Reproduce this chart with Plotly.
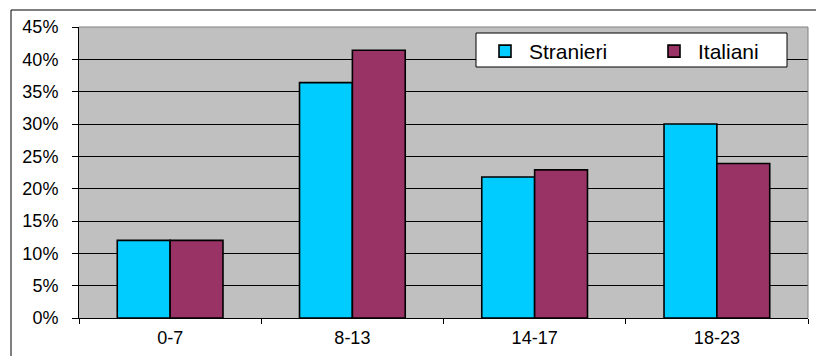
import plotly.graph_objects as go

# Age bands and share of each group (fraction of total)
categories = ["0-7", "8-13", "14-17", "18-23"]
stranieri = [0.12, 0.364, 0.218, 0.300]
italiani = [0.12, 0.414, 0.229, 0.239]
y_ticks = [0, 0.05, 0.10, 0.15, 0.20, 0.25, 0.30, 0.35, 0.40, 0.45]

W, H = 816, 356
ML, MR, MT, MB = 79, 8, 27, 38
PW, PH = W - ML - MR, H - MT - MB

FONT = "Liberation Sans, Arial, sans-serif"

fig = go.Figure()
fig.add_trace(go.Bar(
    name="Stranieri", x=categories, y=stranieri,
    marker=dict(color="#00CCFF", line=dict(color="#000000", width=1.6)),
))
fig.add_trace(go.Bar(
    name="Italiani", x=categories, y=italiani,
    marker=dict(color="#993366", line=dict(color="#000000", width=1.6)),
))


def px_x(px):
    return (px - ML) / PW


def px_y(py):
    return (H - MB - py) / PH


shapes = [
    # outer chart frame (runs past the right and bottom edges)
    dict(type="rect", xref="paper", yref="paper",
         x0=px_x(11), x1=px_x(830), y0=px_y(370), y1=px_y(10),
         line=dict(color="#000000", width=1), layer="above"),
    # grey plot-area border on top and right
    dict(type="line", xref="paper", yref="paper", x0=0, x1=1, y0=1, y1=1,
         line=dict(color="#808080", width=1), layer="above"),
    dict(type="line", xref="paper", yref="paper", x0=1, x1=1, y0=0, y1=1,
         line=dict(color="#808080", width=1), layer="above"),
    # legend box
    dict(type="rect", xref="paper", yref="paper",
         x0=px_x(476), x1=px_x(787), y0=px_y(67), y1=px_y(33),
         fillcolor="#FFFFFF", line=dict(color="#000000", width=1),
         layer="above"),
]

fig.update_layout(
    width=W, height=H,
    margin=dict(l=ML, r=MR, t=MT, b=MB, pad=0, autoexpand=False),
    paper_bgcolor="#FFFFFF",
    plot_bgcolor="#C0C0C0",
    barmode="group",
    bargap=0.42,
    bargroupgap=0,
    font=dict(family=FONT, size=18, color="#000000"),
    showlegend=True,
    legend=dict(
        orientation="h",
        x=px_x(481), y=px_y(31), xanchor="left", yanchor="top",
        bgcolor="rgba(0,0,0,0)", borderwidth=0,
        font=dict(family=FONT, size=21, color="#000000"),
        itemwidth=38,
        entrywidth=116, entrywidthmode="pixels",
        traceorder="normal",
    ),
    shapes=shapes,
    xaxis=dict(
        type="category",
        showline=True, linecolor="#000000", linewidth=1,
        ticks="outside", tickson="boundaries", ticklen=5,
        tickcolor="#000000", tickwidth=1,
        showgrid=False, zeroline=False,
        tickfont=dict(family=FONT, size=18),
        ticklabelstandoff=3,
    ),
    yaxis=dict(
        range=[0, 0.45],
        tickvals=y_ticks, tickformat=".0%",
        showline=True, linecolor="#000000", linewidth=1,
        ticks="outside", ticklen=6, tickcolor="#000000", tickwidth=1,
        showgrid=True, gridcolor="#000000", gridwidth=1,
        zeroline=False,
        tickfont=dict(family=FONT, size=18),
        ticklabelstandoff=10,
    ),
)

fig.write_html("out.html")
